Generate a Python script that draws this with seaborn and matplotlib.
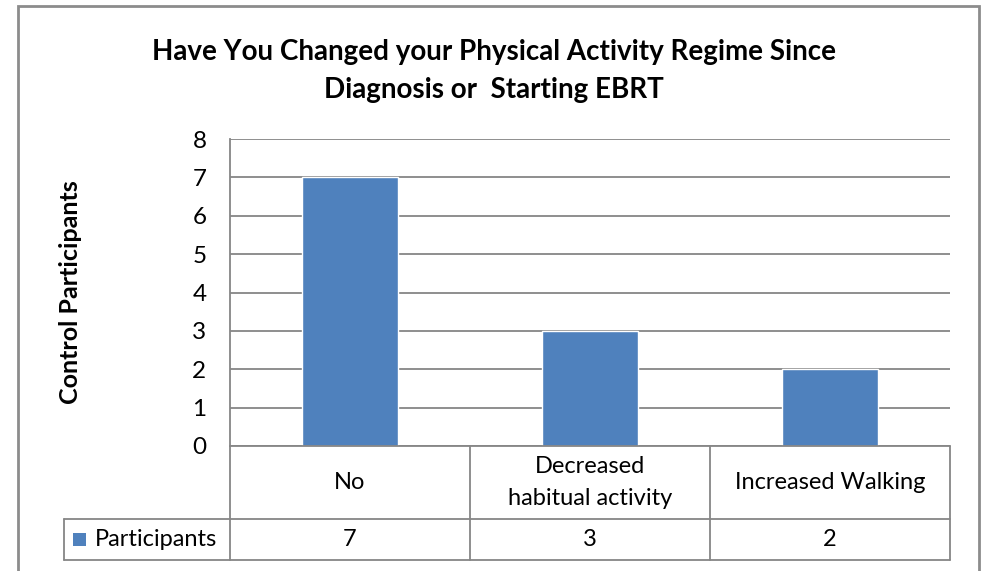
import matplotlib
matplotlib.use("Agg")
import matplotlib.pyplot as plt
import matplotlib.transforms as mtransforms
from matplotlib.lines import Line2D
from matplotlib.patches import Rectangle
import seaborn as sns
import pandas as pd

# Survey answers and counts
categories = ["No", "Decreased\nhabitual activity", "Increased Walking"]
participants = [7, 3, 2]
series_name = "Participants"
y_ticks = [0, 1, 2, 3, 4, 5, 6, 7, 8]

title = "Have You Changed your Physical Activity Regime Since\nDiagnosis or  Starting EBRT"
y_label = "Control Participants"

BAR = "#4F81BD"
GRID = "#868686"
FONT = ["Lato", "DejaVu Sans"]

sns.set_theme(style="white")
plt.rcParams["font.family"] = FONT

W, H = 985, 571
fig = plt.figure(figsize=(W / 100, H / 100), dpi=100)


def px_box(x0, y0, x1, y1):
    """Axes rectangle from pixel corners (top-left origin)."""
    return [x0 / W, 1 - y1 / H, (x1 - x0) / W, (y1 - y0) / H]


ax = fig.add_axes(px_box(230, 139, 950, 446))

df = pd.DataFrame({"answer": categories, "count": participants})
sns.barplot(data=df, x="answer", y="count", color=BAR, saturation=1,
            width=0.4, ax=ax)

ax.set_ylim(0, 8)
ax.set_xlim(-0.5, len(categories) - 0.5)
ax.set_yticks(y_ticks)
ax.set_yticklabels([str(t) for t in y_ticks], fontsize=17.5, color="#000000")
ax.tick_params(axis="y", length=0, pad=17)
ax.set_xticks([])
ax.set_xlabel("")
ax.set_ylabel("")
ax.set_axisbelow(True)
ax.yaxis.grid(True, color=GRID, linewidth=1.3)
for side in ["top", "right", "bottom"]:
    ax.spines[side].set_visible(False)
ax.spines["left"].set_color(GRID)
ax.spines["left"].set_linewidth(1.3)

# Data table under the plot: x in category units, y in axes fraction
trans = mtransforms.blended_transform_factory(ax.transData, ax.transAxes)
plot_h = 446 - 139
row1 = -(519 - 446) / plot_h
row2 = -(560 - 446) / plot_h
legend_left = -0.5 + (64 - 230) / 240


def tline(xs, ys):
    ax.add_line(Line2D(xs, ys, transform=trans, color=GRID, linewidth=1.3,
                       clip_on=False))


tline([-0.5, 2.5], [0, 0])
tline([legend_left, 2.5], [row1, row1])
tline([legend_left, 2.5], [row2, row2])
for xb in [-0.5, 0.5, 1.5, 2.5]:
    tline([xb, xb], [0, row2])
tline([legend_left, legend_left], [row1, row2])

TABLE_FS = 17
for i, (cat, val) in enumerate(zip(categories, participants)):
    ax.text(i, row1 / 2, cat, transform=trans, ha="center", va="center",
            fontsize=TABLE_FS, color="#000000", linespacing=1.6)
    ax.text(i, (row1 + row2) / 2, str(val), transform=trans, ha="center",
            va="center", fontsize=TABLE_FS, color="#000000")

# Legend key inside the first table cell
key_w = 13 / 240
key_x = legend_left + 9 / 240
key_h = 13 / plot_h
ax.add_patch(Rectangle((key_x, (row1 + row2) / 2 - key_h / 2), key_w, key_h,
                       transform=trans, facecolor=BAR, edgecolor="none",
                       clip_on=False))
ax.text(legend_left + 31 / 240, (row1 + row2) / 2, series_name,
        transform=trans, ha="left", va="center", fontsize=TABLE_FS,
        color="#000000")

# Title and axis label
fig.text(494 / W, 1 - 71 / H, title, ha="center", va="center",
         fontsize=20, fontweight="bold", color="#000000", linespacing=1.6)
fig.text(70 / W, 1 - 292 / H, y_label, rotation=90, ha="center",
         va="center", fontsize=18, fontweight="bold", color="#000000")

# Chart frame
fig.add_artist(Rectangle((18 / W, -0.05), (979 - 18) / W, 1 - 6 / H + 0.05,
                         transform=fig.transFigure, facecolor="none",
                         edgecolor="#8C8C8C", linewidth=2))

fig.savefig("out.png", dpi=100)
